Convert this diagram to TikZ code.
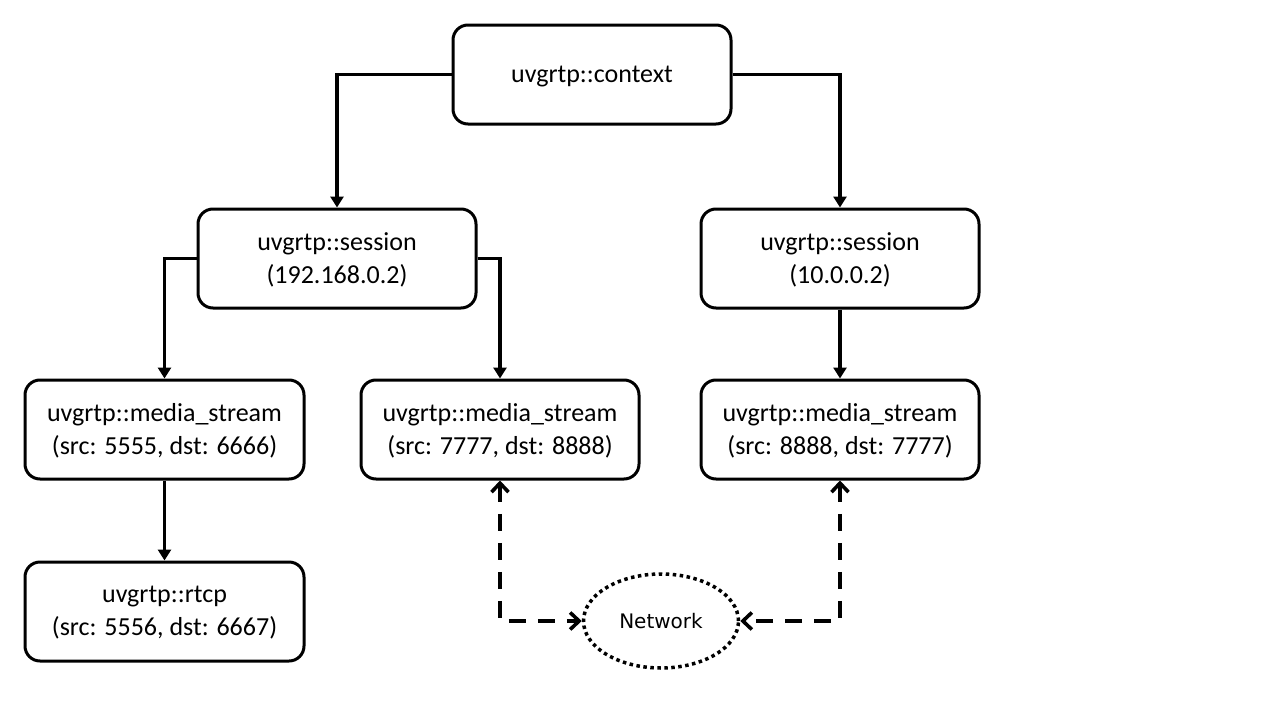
\documentclass[tikz,border=0pt]{standalone}
\usepackage{fontspec}
\setmainfont{Carlito}
\newfontfamily\netfont{DejaVu Sans}
\usetikzlibrary{arrows.meta,shapes.geometric}
\begin{document}
\begin{tikzpicture}[x=1pt,y=-1pt,
  box/.style={draw,line width=3pt,rounded corners=15pt,minimum width=278pt,minimum height=99pt,
    align=center,inner sep=0pt,text depth=1pt,font=\fontsize{26pt}{33pt}\selectfont},
  conn/.style={draw,line width=3.6pt,-{Triangle[length=11pt,width=13pt]}},
  dconn/.style={draw,line width=3.6pt,dash pattern=on 17pt off 12pt,
    {Straight Barb[length=9pt,width=17pt,line width=3.6pt]}-{Straight Barb[length=9pt,width=17pt,line width=3.6pt]}}]
\useasboundingbox[fill=white] (0,0) rectangle (1280,720);
\node[box] (ctx) at (592,74.5) {uvgrtp::context};
\node[box] (s1) at (337,258.5) {uvgrtp::session\\(192.168.0.2)};
\node[box] (s2) at (840,258.5) {uvgrtp::session\\(10.0.0.2)};
\node[box,minimum width=279pt] (m1) at (164.5,429.5) {uvgrtp::media\_stream\\(src: 5555, dst: 6666)};
\node[box] (m2) at (500,429.5) {uvgrtp::media\_stream\\(src: 7777, dst: 8888)};
\node[box] (m3) at (840,429.5) {uvgrtp::media\_stream\\(src: 8888, dst: 7777)};
\node[box,minimum width=279pt] (rt) at (164.5,611.5) {uvgrtp::rtcp\\(src: 5556, dst: 6667)};
\node[draw,ellipse,line width=3.5pt,dash pattern=on 3.5pt off 3.5pt,minimum width=155pt,minimum height=94pt,inner sep=0pt,font=\netfont\fontsize{20pt}{24pt}\selectfont] (net) at (661,621) {Network};
\path[conn] (ctx.west) -| (s1.north);
\path[conn] (ctx.east) -| (s2.north);
\path[conn] (s1.west) -| (m1.north);
\path[conn] (s1.east) -| (m2.north);
\path[conn] (s2.south) -- (m3.north);
\path[conn] (m1.south) -- (rt.north);
\path[dconn] (m2.south) |- (net.west);
\path[dconn] (m3.south) |- (net.east);
\end{tikzpicture}
\end{document}
